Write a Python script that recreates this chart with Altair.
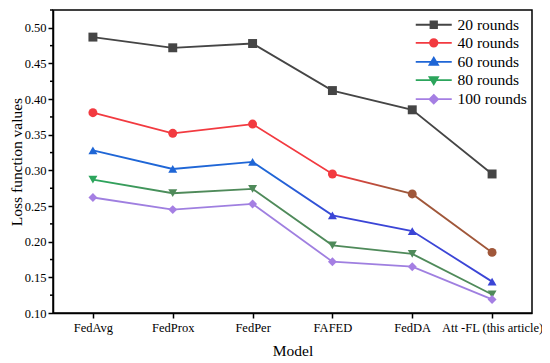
import altair as alt
import pandas as pd

models = ["FedAvg", "FedProx", "FedPer", "FAFED", "FedDA", "Att -FL (this article)"]
series = ["20 rounds", "40 rounds", "60 rounds", "80 rounds", "100 rounds"]
r20 = [0.487, 0.472, 0.478, 0.412, 0.385, 0.295]
r40 = [0.381, 0.352, 0.365, 0.295, 0.267, 0.185]
r60 = [0.328, 0.302, 0.312, 0.237, 0.215, 0.144]
r80 = [0.287, 0.268, 0.274, 0.195, 0.183, 0.126]
r100 = [0.262, 0.245, 0.253, 0.172, 0.165, 0.119]
y_ticks = [0.10, 0.15, 0.20, 0.25, 0.30, 0.35, 0.40, 0.45, 0.50]
y_minor = [0.125, 0.175, 0.225, 0.275, 0.325, 0.375, 0.425, 0.475, 0.525]

colors = ["#454545", "#f23a40", "#1f66d6", "#2ca55c", "#a57fe3"]
# later-segment colours (the source figure shifts hue along some lines)
late_colors = ["#454545", "#a0573a", "#3b45d6", "#4f8a5a", "#9f7fe0"]
# gradient (start offset, end offset) of the colour shift along each line
shift = [(0.0, 0.0), (0.62, 0.75), (0.45, 0.62), (0.02, 0.2), (0.0, 0.0)]
# models whose marker takes the late colour
late_models = [
    [],
    ["FedDA", "Att -FL (this article)"],
    ["FAFED", "FedDA", "Att -FL (this article)"],
    ["FedProx", "FedPer", "FAFED", "FedDA", "Att -FL (this article)"],
    [],
]
shapes = ["square", "circle", "triangle-up", "triangle-down", "diamond"]
legend_paths = [
    "M-3.6,0H3.6M-0.65,-0.65H0.65V0.65H-0.65Z",
    "M-3.6,0H3.6M-0.75,0A0.75,0.75 0 1,0 0.75,0A0.75,0.75 0 1,0 -0.75,0Z",
    "M-3.6,0H3.6M0,-0.85L0.85,0.6L-0.85,0.6Z",
    "M-3.6,0H3.6M0,0.85L0.85,-0.6L-0.85,-0.6Z",
    "M-3.6,0H3.6M0,-0.85L0.85,0L0,0.85L-0.85,0Z",
]

rows = []
for s, vals in zip(series, [r20, r40, r60, r80, r100]):
    for m, v in zip(models, vals):
        rows.append({"model": m, "series": s, "value": v})
df = pd.DataFrame(rows)
minor_df = pd.DataFrame({"value": y_minor})

FONT = "Liberation Serif, Times New Roman, Times, serif"

x_enc = alt.X(
    "model:N",
    sort=models,
    scale=alt.Scale(type="point", padding=0.5),
    axis=alt.Axis(title="Model", labelAngle=0, tickSize=5, labelPadding=3, titleY=30),
)
y_enc = alt.Y(
    "value:Q",
    scale=alt.Scale(domain=[0.10, 0.525], zero=False, nice=False),
    axis=alt.Axis(values=y_ticks, format=".2f", tickSize=5, labelPadding=2,
                  labelOverlap=False, title="Loss function values", titleX=-29,
                  grid=False),
)
color_enc = alt.Color("series:N", scale=alt.Scale(domain=series, range=colors),
                      legend=alt.Legend(title=None))

base = alt.Chart(df)

line_layers = []
point_layers = []
for s, shp, c0, c1, (o0, o1), lm in zip(series, shapes, colors, late_colors, shift, late_models):
    sub = base.transform_filter(alt.datum.series == s)
    if c0 == c1:
        stroke = c0
    else:
        stroke = alt.Gradient(
            gradient="linear", x1=0, x2=1, y1=0, y2=0,
            stops=[
                alt.GradientStop(color=c0, offset=0),
                alt.GradientStop(color=c0, offset=o0),
                alt.GradientStop(color=c1, offset=o1),
                alt.GradientStop(color=c1, offset=1),
            ],
        )
    line_layers.append(
        sub.mark_line(strokeWidth=1.8, color=stroke).encode(x=x_enc, y=y_enc)
    )
    if lm:
        pcolor = alt.condition(alt.FieldOneOfPredicate(field="model", oneOf=lm),
                               alt.value(c1), alt.value(c0))
    else:
        pcolor = alt.value(c0)
    point_layers.append(
        sub.mark_point(filled=True, shape=shp, size=80, opacity=1)
        .encode(x=x_enc, y=y_enc, color=pcolor)
    )

minor_ticks = alt.Chart(minor_df).mark_rule(color="black", strokeWidth=1.5).encode(
    y=y_enc, x=alt.value(-3), x2=alt.value(0)
)

legend_layer = (
    base.transform_filter(alt.datum.value < 0)
    .mark_point(filled=True, opacity=1, strokeWidth=1.8)
    .encode(
        x=x_enc,
        y=y_enc,
        color=color_enc,
        stroke=alt.Stroke("series:N", scale=alt.Scale(domain=series, range=colors),
                          legend=alt.Legend(title=None)),
        shape=alt.Shape("series:N", scale=alt.Scale(domain=series, range=legend_paths),
                        legend=alt.Legend(title=None)),
    )
)

chart = (
    alt.layer(*line_layers, *point_layers, minor_ticks, legend_layer)
    .properties(
        width=479, height=303,
        autosize=alt.AutoSizeParams(type="none"),
        padding={"left": 45, "top": 2, "right": 10, "bottom": 50},
    )
    .configure(font=FONT)
    .configure_view(stroke="black", strokeWidth=1.5)
    .configure_axis(
        labelFont=FONT, titleFont=FONT, labelFontSize=12.5, titleFontSize=15.5,
        labelColor="black", titleColor="black", titleFontWeight="normal",
        domainColor="black", domainWidth=1.5, tickColor="black", tickWidth=1.5,
    )
    .configure_legend(
        orient="none", legendX=373, legendY=7, padding=0,
        labelFont=FONT, labelFontSize=15.5, labelColor="black",
        symbolSize=100, symbolStrokeWidth=1.8, labelOffset=16, rowPadding=1.1,
    )
)

chart.save("out.html", embed_options={"renderer": "svg", "actions": False})
